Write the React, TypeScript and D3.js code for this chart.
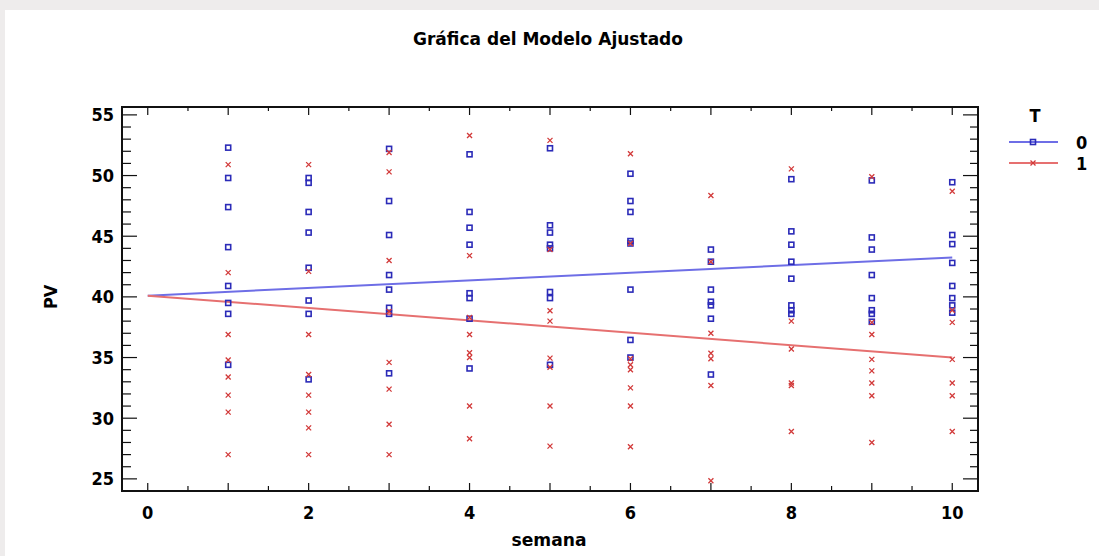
import React from "react";
import * as d3 from "d3";

// ---- data ----
const weeks = [1, 2, 3, 4, 5, 6, 7, 8, 9, 10];
const pvT0: number[][] = [
  [52.3, 49.8, 47.4, 44.1, 40.9, 39.5, 38.6, 34.4],
  [49.8, 49.4, 47.0, 45.3, 42.4, 39.7, 38.6, 33.2],
  [52.2, 47.9, 45.1, 41.8, 40.6, 39.1, 38.6, 33.7],
  [51.75, 47.0, 45.7, 44.3, 40.3, 39.9, 38.2, 34.1],
  [52.25, 45.9, 45.3, 44.3, 44.0, 40.4, 39.9, 34.4],
  [50.15, 47.9, 47.0, 44.6, 44.4, 40.6, 36.45, 35.0],
  [43.9, 42.9, 40.6, 39.6, 39.3, 38.2, 33.6],
  [49.7, 45.4, 44.3, 42.9, 41.5, 39.3, 38.9, 38.6],
  [49.6, 44.9, 43.9, 41.8, 39.9, 38.9, 38.6, 37.95],
  [49.45, 45.1, 44.35, 42.8, 40.9, 39.9, 39.3, 38.7],
];
const pvT1: number[][] = [
  [50.9, 42.0, 36.9, 34.8, 33.4, 31.9, 30.5, 27.0],
  [50.9, 42.1, 36.9, 33.6, 31.9, 30.5, 29.2, 27.0],
  [51.9, 50.3, 43.0, 38.8, 34.6, 32.4, 29.5, 27.0],
  [53.3, 43.4, 38.3, 36.9, 35.4, 35.0, 31.0, 28.3],
  [52.9, 43.9, 38.85, 38.0, 34.95, 34.2, 31.0, 27.7],
  [51.8, 44.4, 34.9, 34.4, 34.0, 32.5, 31.0, 27.65],
  [48.35, 42.9, 37.0, 35.35, 34.9, 32.7, 24.85],
  [50.55, 38.0, 35.7, 32.9, 32.7, 28.9],
  [49.9, 37.9, 36.9, 34.85, 33.9, 32.9, 31.85, 28.0],
  [48.7, 38.9, 37.9, 34.85, 32.9, 31.85, 28.9],
];
const fitT0: [number, number][] = [[0, 40.1], [10, 43.25]];
const fitT1: [number, number][] = [[0, 40.1], [10, 35.0]];
const xTickLabels = [0, 2, 4, 6, 8, 10];
const yTickLabels = [25, 30, 35, 40, 45, 50, 55];
const legendLabels = ["0", "1"];

const W = 1099;
const H = 556;
const FONT = "'Liberation Sans Narrow', 'DejaVu Sans Condensed', 'Liberation Sans', Arial, sans-serif";
const BLUE_LINE = "#6e6ee6";
const RED_LINE = "#e67070";
const BLUE_MK = "#2b2bb8";
const RED_MK = "#d23a3a";

export default function App() {
  const left = 122, right = 978, top = 107, bottom = 491;
  const x = d3.scaleLinear().domain([-0.32, 10.32]).range([left, right]);
  const y = d3.scaleLinear().domain([24, 55.65]).range([bottom, top]);
  const line = d3.line<[number, number]>().x((d) => x(d[0])).y((d) => y(d[1]));

  const xMinor = d3.range(0, 10.01, 0.5);
  const yMinor = d3.range(25, 55.01, 1);

  const square = (cx: number, cy: number, key: string) => (
    <rect key={key} x={cx - 2.5} y={cy - 2.5} width={5} height={5} fill="none" stroke={BLUE_MK} strokeWidth={1.6} />
  );
  const cross = (cx: number, cy: number, key: string) => (
    <path key={key} d={`M${cx - 2.5},${cy - 2.5}L${cx + 2.5},${cy + 2.5}M${cx - 2.5},${cy + 2.5}L${cx + 2.5},${cy - 2.5}`} stroke={RED_MK} strokeWidth={1.3} />
  );

  return (
    <svg width={W} height={H} style={{ position: "absolute", left: 0, top: 0, display: "block" }} fontFamily={FONT}>
      <rect x={0} y={0} width={W} height={H} fill="#eeecec" />
      <rect x={5} y={10} width={W - 5} height={H - 10} fill="#ffffff" />

      <text x={548} y={45} textAnchor="middle" fontSize={18} fontWeight="bold" fill="#000" textLength={270} lengthAdjust="spacingAndGlyphs">Gráfica del Modelo Ajustado</text>

      {/* frame */}
      <rect x={left} y={top} width={right - left} height={bottom - top} fill="none" stroke="#111" strokeWidth={2} />

      {/* x ticks top & bottom */}
      {xMinor.map((v) => {
        const major = Math.abs(v - Math.round(v)) < 1e-6;
        return (
          <g key={"xt" + v} stroke="#111" strokeWidth={1.2}>
            <line x1={x(v)} x2={x(v)} y1={bottom} y2={bottom - (major ? 8 : 5)} />
            <line x1={x(v)} x2={x(v)} y1={top} y2={top + (major ? 8 : 4)} />
          </g>
        );
      })}
      {/* y ticks left & right */}
      {yMinor.map((v) => {
        const major = v % 5 === 0;
        return (
          <g key={"yt" + v} stroke="#111" strokeWidth={1.2}>
            <line x1={left} x2={left + (major ? 15 : 9)} y1={y(v)} y2={y(v)} />
            <line x1={right} x2={right - (major ? 15 : 8)} y1={y(v)} y2={y(v)} />
          </g>
        );
      })}

      {xTickLabels.map((v) => (
        <text key={"xl" + v} x={x(v)} y={519} textAnchor="middle" fontSize={18} fontWeight="bold">{v}</text>
      ))}
      {yTickLabels.map((v) => (
        <text key={"yl" + v} x={114} y={y(v) + 6.5} textAnchor="end" fontSize={18} fontWeight="bold">{v}</text>
      ))}
      <text x={549} y={546} textAnchor="middle" fontSize={18} fontWeight="bold" textLength={75} lengthAdjust="spacingAndGlyphs">semana</text>
      <text transform={`translate(57,${y(40)}) rotate(-90)`} textAnchor="middle" fontSize={18} fontWeight="bold">PV</text>

      {/* fitted lines */}
      <path d={line(fitT0) || ""} fill="none" stroke={BLUE_LINE} strokeWidth={2} />
      <path d={line(fitT1) || ""} fill="none" stroke={RED_LINE} strokeWidth={2} />

      {/* points */}
      {weeks.map((w, i) => pvT0[i].map((v, j) => square(x(w), y(v), `b${i}-${j}`)))}
      {weeks.map((w, i) => pvT1[i].map((v, j) => cross(x(w), y(v), `r${i}-${j}`)))}

      {/* legend */}
      <text x={1035} y={122} textAnchor="middle" fontSize={18} fontWeight="bold">T</text>
      <line x1={1009} x2={1058} y1={142} y2={142} stroke={BLUE_LINE} strokeWidth={2} />
      {square(1033, 142, "lgb")}
      <text x={1076} y={148.5} fontSize={18} fontWeight="bold">{legendLabels[0]}</text>
      <line x1={1009} x2={1058} y1={163} y2={163} stroke={RED_LINE} strokeWidth={2} />
      {cross(1033, 163, "lgr")}
      <text x={1076} y={169.5} fontSize={18} fontWeight="bold">{legendLabels[1]}</text>
    </svg>
  );
}
